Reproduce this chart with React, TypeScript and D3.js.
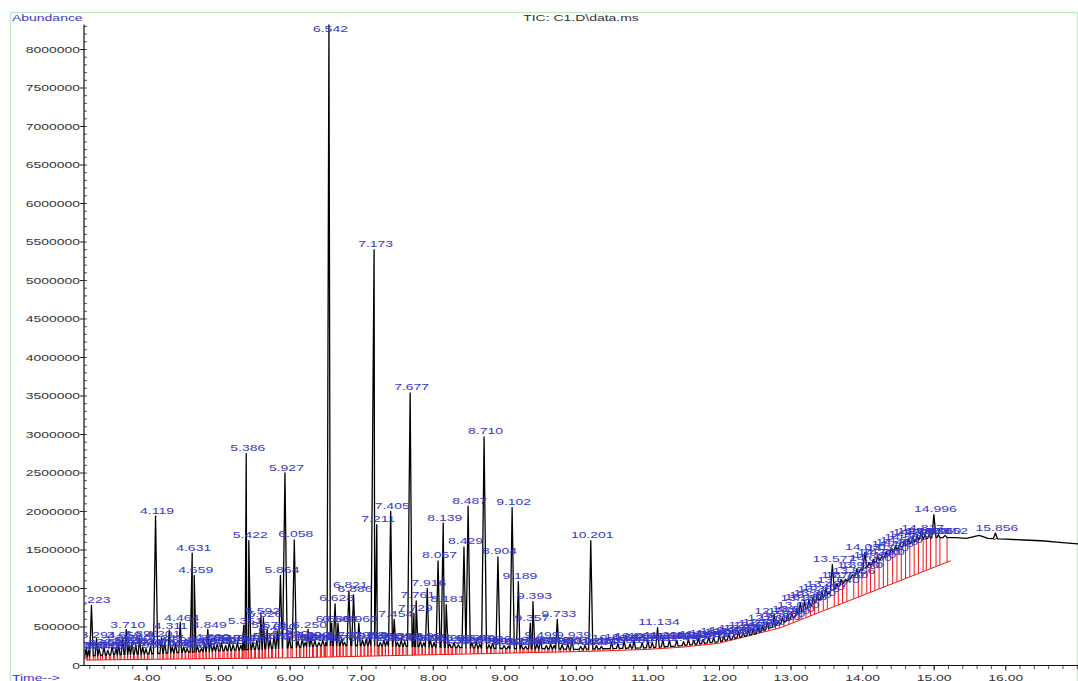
import React from 'react';
import * as d3 from 'd3';

// ---------- data ----------
// x-axis tick labels (retention time, min)
const xTickValues = [4, 5, 6, 7, 8, 9, 10, 11, 12, 13, 14, 15, 16];
const xTickLabels = ['4.00', '5.00', '6.00', '7.00', '8.00', '9.00', '10.00', '11.00', '12.00', '13.00', '14.00', '15.00', '16.00'];
// y-axis tick labels (abundance)
const yTickValues = [0, 500000, 1000000, 1500000, 2000000, 2500000, 3000000, 3500000, 4000000, 4500000, 5000000, 5500000, 6000000, 6500000, 7000000, 7500000, 8000000];
const yTickLabels = ['0', '500000', '1000000', '1500000', '2000000', '2500000', '3000000', '3500000', '4000000', '4500000', '5000000', '5500000', '6000000', '6500000', '7000000', '7500000', '8000000'];

// black TIC background (valley level between peaks), abundance in millions
const baseTimes = [3.12, 3.5, 4.0, 4.5, 5.0, 5.5, 6.0, 6.5, 7.0, 7.5, 8.0, 8.5, 9.0, 9.5, 10.0, 10.5, 11.0, 11.5, 12.0, 12.5, 13.0, 13.5, 14.0, 14.5, 14.8, 15.0, 15.3, 15.45, 15.63, 15.75, 16.0, 16.25, 16.5, 16.75, 17.01];
const baseValues = [0.12, 0.14, 0.15, 0.17, 0.19, 0.21, 0.23, 0.26, 0.26, 0.25, 0.24, 0.23, 0.22, 0.22, 0.21, 0.22, 0.23, 0.26, 0.31, 0.41, 0.6, 0.92, 1.24, 1.52, 1.64, 1.66, 1.66, 1.65, 1.69, 1.65, 1.64, 1.63, 1.62, 1.6, 1.58];

// red integration baseline, millions
const redTimes = [3.15, 4.0, 5.0, 6.0, 7.0, 8.0, 9.0, 10.0, 10.4, 11.0, 11.5, 12.0, 12.85, 15.23];
const redValues = [0.07, 0.08, 0.09, 0.1, 0.12, 0.14, 0.16, 0.18, 0.19, 0.21, 0.24, 0.29, 0.49, 1.36];
const red2Times = [15.83, 15.89];
const red2Values = [1.63, 1.66];

// labelled major peaks: retention time and apex abundance (millions)
const majorTimes = [3.223, 4.119, 4.631, 4.659, 5.386, 5.422, 5.864, 5.927, 6.058, 6.542, 6.628, 6.821, 6.886, 7.173, 7.211, 7.405, 7.454, 7.677, 7.729, 7.761, 7.916, 8.067, 8.139, 8.181, 8.429, 8.487, 8.710, 8.904, 9.102, 9.189, 9.357, 9.393, 9.733, 10.201, 11.134, 13.577, 14.031, 14.817, 14.996, 15.152, 15.856];
const majorHeights = [0.78, 1.94, 1.46, 1.17, 2.75, 1.62, 1.17, 2.50, 1.63, 8.32, 0.80, 0.97, 0.92, 5.40, 1.83, 2.00, 0.60, 3.54, 0.68, 0.84, 1.00, 1.36, 1.85, 0.79, 1.54, 2.07, 2.97, 1.41, 2.05, 1.09, 0.55, 0.83, 0.60, 1.62, 0.49, 1.31, 1.47, 1.72, 1.96, 1.68, 1.72];

// small integrated peaks (the crowded labels near the baseline)
const minorTimes = [
  3.150, 3.180, 3.294, 3.330, 3.398, 3.452, 3.512, 3.567, 3.602, 3.659, 3.710, 3.748, 3.790, 3.842, 3.896, 3.940, 3.985, 4.047,
  4.201, 4.247, 4.311, 4.352, 4.398, 4.464, 4.512, 4.560, 4.705, 4.760, 4.803, 4.849, 4.890, 4.935, 4.980, 5.040, 5.098, 5.151,
  5.203, 5.262, 5.310, 5.351, 5.480, 5.535, 5.592, 5.626, 5.678, 5.720, 5.775, 5.820, 5.990, 6.110, 6.169, 6.210, 6.250, 6.292,
  6.345, 6.402, 6.456, 6.496, 6.581, 6.668, 6.720, 6.760, 6.960, 7.012, 7.063, 7.110, 7.260, 7.310, 7.352, 7.500, 7.552, 7.600,
  7.820, 7.868, 7.960, 8.010, 8.230, 8.290, 8.350, 8.540, 8.600, 8.650, 8.780, 8.830, 8.990, 9.050, 9.230, 9.290, 9.450, 9.499,
  9.580, 9.640, 9.690, 9.800, 9.880, 9.939, 10.060, 10.120, 10.280, 10.350, 10.492, 10.580, 10.668, 10.750, 10.806, 10.920,
  10.999, 11.060, 11.208, 11.300, 11.402, 11.498, 11.566, 11.640, 11.705, 11.770, 11.849, 11.918, 11.998, 12.060, 12.130,
  12.198, 12.265, 12.330, 12.402, 12.470, 12.538, 12.600, 12.668, 12.763, 12.820, 12.880, 12.950, 13.010, 13.080, 13.129,
  13.188, 13.250, 13.310, 13.366, 13.430, 13.487, 13.640, 13.700, 13.760, 13.856, 13.920, 13.970, 14.090, 14.150, 14.210,
  14.270, 14.330, 14.400, 14.460, 14.520, 14.580, 14.640, 14.700, 14.760, 14.870, 14.930, 15.060,
];
const minorHeights = [
  0.22, 0.20, 0.35, 0.22, 0.24, 0.20, 0.25, 0.22, 0.28, 0.35, 0.47, 0.26, 0.30, 0.27, 0.36, 0.24, 0.22, 0.25,
  0.36, 0.30, 0.46, 0.24, 0.28, 0.56, 0.24, 0.22, 0.25, 0.22, 0.30, 0.47, 0.32, 0.26, 0.28, 0.30, 0.26, 0.31,
  0.27, 0.30, 0.26, 0.52, 0.30, 0.33, 0.65, 0.62, 0.47, 0.33, 0.40, 0.45, 0.36, 0.32, 0.35, 0.30, 0.47, 0.35,
  0.32, 0.30, 0.33, 0.30, 0.55, 0.55, 0.35, 0.30, 0.55, 0.33, 0.35, 0.34, 0.30, 0.33, 0.32, 0.30, 0.33, 0.31,
  0.32, 0.30, 0.33, 0.30, 0.28, 0.30, 0.27, 0.30, 0.31, 0.28, 0.27, 0.29, 0.26, 0.25, 0.27, 0.25, 0.28, 0.35,
  0.26, 0.28, 0.26, 0.27, 0.28, 0.35, 0.25, 0.26, 0.26, 0.25, 0.30, 0.28, 0.32, 0.28, 0.33, 0.30,
  0.33, 0.30, 0.34, 0.33, 0.33, 0.31, 0.34, 0.33, 0.36, 0.34, 0.37, 0.36, 0.40, 0.38, 0.41,
  0.40, 0.44, 0.43, 0.47, 0.48, 0.50, 0.51, 0.56, 0.66, 0.58, 0.62, 0.66, 0.68, 0.74, 0.82,
  0.84, 0.86, 0.89, 0.94, 0.97, 1.01, 1.06, 1.12, 1.12, 1.15, 1.25, 1.22, 1.34, 1.38, 1.42,
  1.40, 1.48, 1.52, 1.55, 1.58, 1.62, 1.65, 1.68, 1.69, 1.70, 1.70, 1.70,
];

// ---------- layout ----------
const W = 1078;
const H = 681;
const FONT = 'Liberation Sans, Arial, Helvetica, sans-serif';
const BLUE = '#3838c8';
const RED = '#ee1515';
const SX = 1.47; // reference text is horizontally stretched

const x = d3.scaleLinear().domain([3.119, 17.01]).range([84, 1078]);
const y = d3.scaleLinear().domain([0, 8000000]).range([665.5, 49.5]);
const M = 1e6;

const baseAt = d3.scaleLinear().domain(baseTimes).range(baseValues).clamp(true);
const redAt = d3.scaleLinear().domain(redTimes).range(redValues).clamp(true);

type Peak = { t: number; h: number; w: number };

function buildPeaks(): Peak[] {
  const out: Peak[] = [];
  majorTimes.forEach((t, i) => {
    const h = majorHeights[i];
    out.push({ t, h, w: 0.022 + Math.min(h, 6) * 0.004 });
  });
  minorTimes.forEach((t, i) => {
    out.push({ t, h: minorHeights[i], w: 0.02 });
  });
  out.sort((a, b) => a.t - b.t);
  return out;
}

export default function App() {
  const peaks = buildPeaks();

  // trace points: background points outside peaks + triangular peaks
  const pts: [number, number][] = [];
  baseTimes.forEach((t, i) => {
    const inside = peaks.some((p) => Math.abs(p.t - t) < p.w);
    if (!inside) pts.push([t, baseValues[i]]);
  });
  peaks.forEach((p) => {
    const hb = Math.max(p.h, baseAt(p.t) + 0.03);
    pts.push([p.t - p.w, baseAt(p.t - p.w)]);
    pts.push([p.t, hb]);
    pts.push([p.t + p.w, baseAt(p.t + p.w)]);
  });
  pts.sort((a, b) => a[0] - b[0]);

  // drop-line positions: start and end of early peaks, end of late peaks
  const drops: number[] = [];
  peaks.forEach((p) => {
    if (p.t < 10.5) drops.push(p.t - p.w);
    if (p.t + p.w <= 15.24) drops.push(p.t + p.w);
  });

  const line = d3
    .line<[number, number]>()
    .x((d) => x(d[0]))
    .y((d) => y(d[1] * M));

  const redLine = d3
    .line<number>()
    .x((t) => x(t))
    .y((t, i) => y(redValues[i] * M));
  const red2Line = d3
    .line<number>()
    .x((t) => x(t))
    .y((t, i) => y(red2Values[i] * M));

  // minor y ticks every 100000
  const yMinor: number[] = [];
  for (let v = 0; v <= 8300000; v += 100000) yMinor.push(v);
  const xMinor: number[] = [];
  for (let t = 3.2; t <= 17.0; t += 0.2) xMinor.push(Math.round(t * 10) / 10);

  const textAt = (tx: number, ty: number) => `translate(${tx},${ty}) scale(${SX},1)`;

  return (
    <svg
      width={W}
      height={H}
      style={{ position: 'absolute', left: 0, top: 0, background: '#fff' }}
      fontFamily={FONT}
    >
      <defs>
        <clipPath id="plotClip">
          <rect x={84.5} y={0} width={W - 84.5} height={665.5} />
        </clipPath>
      </defs>
      <rect x={0} y={0} width={W} height={H} fill="#fff" />
      {/* frame */}
      <rect x={10.5} y={12.5} width={1067} height={700} fill="none" stroke="#bfe8c8" strokeWidth={1.2} />

      {/* titles */}
      <text transform={textAt(12, 21)} fontSize={9.5} fill={BLUE}>
        Abundance
      </text>
      <text transform={textAt(581, 21)} fontSize={9.5} fill="#333" textAnchor="middle">
        TIC: C1.D\data.ms
      </text>
      <text transform={textAt(12, 680.5)} fontSize={9.5} fill={BLUE}>
        Time--&gt;
      </text>

      {/* y axis */}
      <line x1={84} x2={84} y1={y(0)} y2={y(8320000)} stroke="#111" strokeWidth={1.2} />
      {yMinor.map((v) => (
        <line key={'ym' + v} x1={84} x2={87} y1={y(v)} y2={y(v)} stroke="#222" strokeWidth={0.8} />
      ))}
      {yTickValues.map((v, i) => (
        <g key={'yt' + v}>
          <line x1={80} x2={84} y1={y(v)} y2={y(v)} stroke="#222" strokeWidth={1} />
          <text transform={textAt(80, y(v) + 3.4)} fontSize={9.5} fill="#333" textAnchor="end">
            {yTickLabels[i]}
          </text>
        </g>
      ))}

      {/* x axis */}
      <line x1={84} x2={1078} y1={y(0)} y2={y(0)} stroke="#111" strokeWidth={1.2} />
      {xMinor.map((t) => (
        <line key={'xm' + t} x1={x(t)} x2={x(t)} y1={y(0)} y2={y(0) + 3.5} stroke="#222" strokeWidth={0.8} />
      ))}
      {xTickValues.map((t, i) => (
        <g key={'xt' + t}>
          <line x1={x(t)} x2={x(t)} y1={y(0)} y2={y(0) + 5} stroke="#222" strokeWidth={1} />
          <text transform={textAt(x(t), 680.5)} fontSize={9.5} fill="#333" textAnchor="middle">
            {xTickLabels[i]}
          </text>
        </g>
      ))}

      <g clipPath="url(#plotClip)">
        {/* red integration baselines and drop lines */}
        <path d={redLine(redTimes) || ''} fill="none" stroke={RED} strokeWidth={1} />
        <path d={red2Line(red2Times) || ''} fill="none" stroke={RED} strokeWidth={1} />
        {drops.map((t, i) => (
          <line
            key={'rd' + i}
            x1={x(t)}
            x2={x(t)}
            y1={y(redAt(t) * M)}
            y2={y(baseAt(t) * M)}
            stroke={RED}
            strokeWidth={1}
          />
        ))}

        {/* TIC trace */}
        <path d={line(pts) || ''} fill="none" stroke="#000" strokeWidth={1.3} strokeLinejoin="round" />

        {/* peak labels */}
        {minorTimes.map((t, i) => (
          <text
            key={'ml' + i}
            transform={textAt(x(t) + 1.5, y(Math.max(minorHeights[i], baseAt(t) + 0.03) * M) - 1)}
            fontSize={9.5}
            fill={BLUE}
            textAnchor="middle"
          >
            {t.toFixed(3)}
          </text>
        ))}
        {majorTimes.map((t, i) => (
          <text
            key={'Ml' + i}
            transform={textAt(x(t) + 1.5, Math.max(y(majorHeights[i] * M) - 2.5, 32))}
            fontSize={9.5}
            fill={BLUE}
            textAnchor="middle"
          >
            {t.toFixed(3)}
          </text>
        ))}
      </g>
    </svg>
  );
}
